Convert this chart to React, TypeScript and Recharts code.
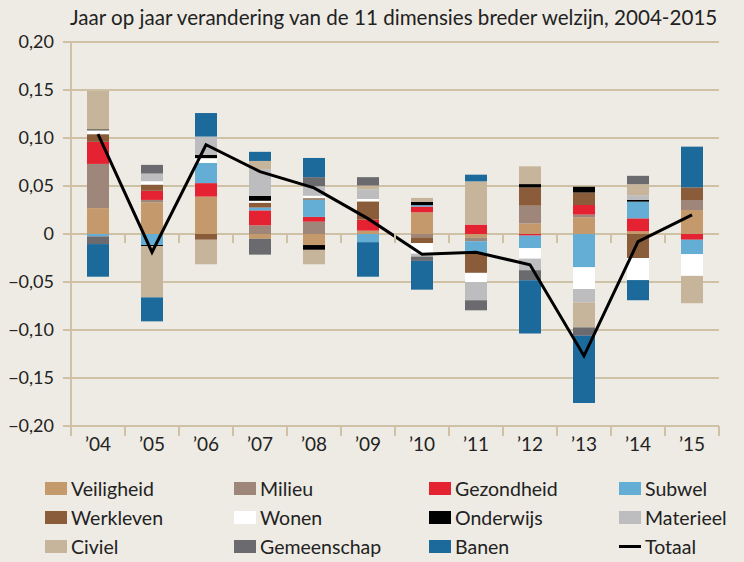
import { ComposedChart, Bar, Line, XAxis, YAxis, CartesianGrid } from 'recharts'

const years = ["’04", "’05", "’06", "’07", "’08", "’09", "’10", "’11", "’12", "’13", "’14", "’15"]

const veiligheid = [0.027, 0.033, 0.039, -0.005, -0.0115, 0.0035, 0.0226, -0.004, 0.011, 0.0174, 0.0028, 0.025]
const milieu = [0.046, 0.0025, 0, 0.009, 0.0128, 0, -0.0035, -0.0035, 0.0185, 0.0028, 0, 0.0104]
const gezondheid = [0.023, 0.0095, 0.014, 0.0156, 0.005, 0.0115, 0.006, 0.0098, -0.0017, 0.01, 0.0135, -0.006]
const subwel = [-0.0025, -0.0115, 0.021, 0.003, 0.018, -0.0085, 0.0015, -0.013, -0.013, -0.0347, 0.0174, -0.015]
const werkleven = [0.008, 0.0065, -0.006, 0.005, 0.0015, 0.019, -0.006, -0.02, 0.019, 0.013, -0.025, 0.0132]
const wonen = [0.004, 0.0035, 0.005, 0.002, 0.0025, 0.0025, -0.011, -0.0095, -0.011, -0.0226, -0.023, -0.0226]
const onderwijs = [0.001, -0.001, 0.0035, 0.005, -0.005, 0, 0.0035, 0, 0.0035, 0.006, 0.0017, 0]
const materieel = [0, 0.008, 0.019, 0.028, 0.01, 0.01, -0.003, -0.019, -0.012, -0.014, 0.005, 0]
const civiel = [0.04, -0.0535, -0.0255, 0.0085, -0.015, 0.004, 0.004, 0.045, 0.0185, -0.026, 0.0115, -0.0285]
const gemeenschap = [-0.008, 0.009, 0, -0.0165, 0.0094, 0.0087, -0.0045, -0.0105, -0.0105, -0.0087, 0.0087, 0]
const banen = [-0.034, -0.025, 0.0245, 0.0095, 0.02, -0.036, -0.03, 0.007, -0.0555, -0.07, -0.021, 0.0424]
const totaal = [0.104, -0.019, 0.093, 0.065, 0.048, 0.016, -0.021, -0.019, -0.032, -0.127, -0.008, 0.02]

const yTicks = [-0.2, -0.15, -0.1, -0.05, 0, 0.05, 0.1, 0.15, 0.2]

const series = [
  { key: 'Veiligheid', values: veiligheid, color: '#c49a6c' },
  { key: 'Milieu', values: milieu, color: '#9e877a' },
  { key: 'Gezondheid', values: gezondheid, color: '#e52231' },
  { key: 'Subwel', values: subwel, color: '#64aed5' },
  { key: 'Werkleven', values: werkleven, color: '#8a5c3a' },
  { key: 'Wonen', values: wonen, color: '#ffffff' },
  { key: 'Onderwijs', values: onderwijs, color: '#000000' },
  { key: 'Materieel', values: materieel, color: '#bdbdc0' },
  { key: 'Civiel', values: civiel, color: '#c6b59b' },
  { key: 'Gemeenschap', values: gemeenschap, color: '#6b6b6f' },
  { key: 'Banen', values: banen, color: '#1c6a9b' },
]

// legend is laid out row by row, 4 columns
const legendOrder = [
  'Veiligheid', 'Milieu', 'Gezondheid', 'Subwel',
  'Werkleven', 'Wonen', 'Onderwijs', 'Materieel',
  'Civiel', 'Gemeenschap', 'Banen', 'Totaal',
]

const data = years.map((year, i) => {
  const row: Record<string, any> = { year, Totaal: totaal[i] }
  series.forEach(s => { row[s.key] = s.values[i] })
  return row
})

const BG = '#eeebe4'
const TAN = '#cfc1a6'
const FONT = 'Lato, "Open Sans", sans-serif'

const PLOT_TOP = 42
const PLOT_BOTTOM = 426
const ZERO_Y = (PLOT_TOP + PLOT_BOTTOM) / 2
const HALF_BAND = (719 - 71) / years.length / 2

const fmt = (v: number) => v === 0 ? '0' : v.toFixed(2).replace('.', ',').replace('-', '\u2212')

function YearTick(props: any) {
  const { x, payload, index } = props
  const left = x - HALF_BAND
  const right = x + HALF_BAND
  const last = index === years.length - 1
  return (
    <g>
      <line x1={left} x2={left} y1={PLOT_BOTTOM} y2={PLOT_BOTTOM + 10} stroke={TAN} strokeWidth={2} />
      {index > 0 && <line x1={left} x2={left} y1={ZERO_Y} y2={ZERO_Y + 9} stroke={TAN} strokeWidth={2} />}
      {last && <line x1={right} x2={right} y1={PLOT_BOTTOM} y2={PLOT_BOTTOM + 10} stroke={TAN} strokeWidth={2} />}
      <text x={x} y={PLOT_BOTTOM + 25} textAnchor="middle" fontSize={19} fill="#222" fontFamily={FONT}>
        {payload.value}
      </text>
    </g>
  )
}

function LegendItem({ name }: { name: string }) {
  const s = series.find(d => d.key === name)
  return (
    <div style={{ display: 'flex', alignItems: 'center', height: 29 }}>
      {s ? (
        <span style={{ width: 22, height: 13, background: s.color, marginRight: 4, display: 'inline-block' }} />
      ) : (
        <span style={{ width: 22, height: 3, background: '#000', marginRight: 4, display: 'inline-block' }} />
      )}
      <span>{name}</span>
    </div>
  )
}

export default function App() {
  return (
    <div style={{ position: 'absolute', left: 0, top: 0, width: 744, height: 562, background: BG, fontFamily: FONT, color: '#222' }}>
      <div style={{ position: 'absolute', left: 70, top: 5, fontSize: 20.6, whiteSpace: 'nowrap' }}>
        Jaar op jaar verandering van de 11 dimensies breder welzijn, 2004-2015
      </div>
      <ComposedChart
        width={744}
        height={470}
        data={data}
        stackOffset="sign"
        margin={{ top: PLOT_TOP, right: 25, left: 0, bottom: 0 }}
        style={{ position: 'absolute', left: 0, top: 0 }}
      >
        <CartesianGrid vertical={false} stroke={TAN} strokeWidth={2} />
        <XAxis
          dataKey="year"
          height={44}
          axisLine={{ stroke: TAN, strokeWidth: 2 }}
          tickLine={false}
          tick={<YearTick />}
          interval={0}
        />
        <YAxis
          width={71}
          domain={[-0.2, 0.2]}
          ticks={yTicks}
          tickFormatter={fmt}
          axisLine={{ stroke: TAN, strokeWidth: 2 }}
          tickLine={{ stroke: TAN, strokeWidth: 2 }}
          tickSize={8}
          tickMargin={9}
          tick={{ fill: '#222', fontSize: 18, fontFamily: FONT }}
          allowDataOverflow
        />
        <YAxis
          yAxisId="right"
          orientation="right"
          width={0}
          domain={[-0.2, 0.2]}
          tick={false}
          tickLine={false}
          axisLine={{ stroke: TAN, strokeWidth: 2 }}
        />
        {series.map(s => (
          <Bar key={s.key} dataKey={s.key} stackId="a" fill={s.color} barSize={22} isAnimationActive={false} />
        ))}
        <Line dataKey="Totaal" type="linear" stroke="#000" strokeWidth={3} dot={false} isAnimationActive={false} />
      </ComposedChart>
      <div
        style={{
          position: 'absolute', left: 45, top: 474, display: 'grid',
          gridTemplateColumns: '189px 195px 190px 120px', fontSize: 19.5,
        }}
      >
        {legendOrder.map(n => <LegendItem key={n} name={n} />)}
      </div>
    </div>
  )
}
